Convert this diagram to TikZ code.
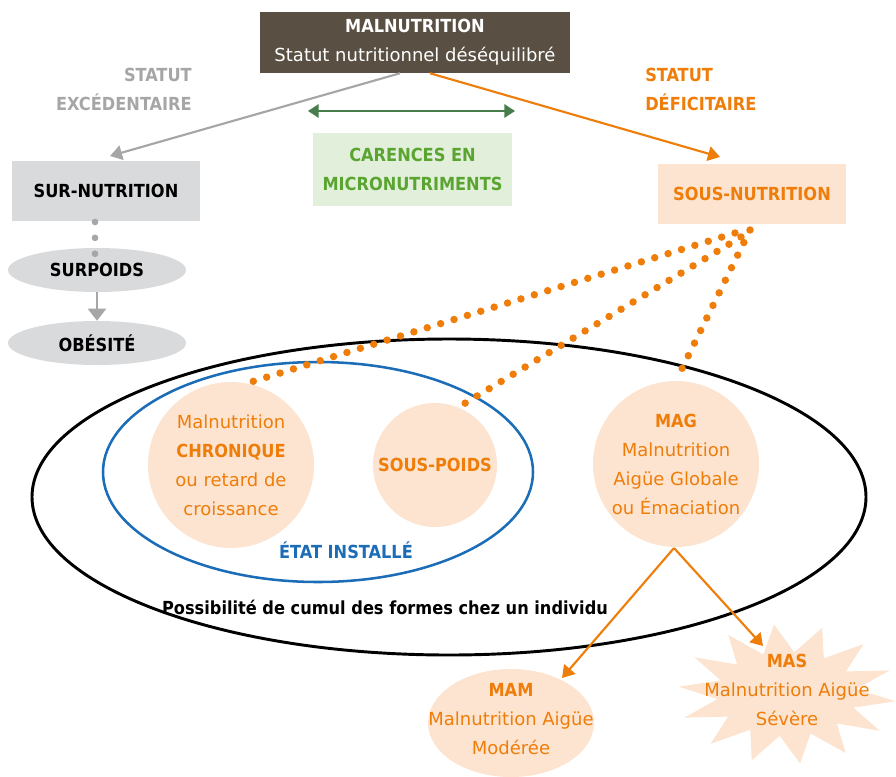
\documentclass[tikz,border=0pt]{standalone}
\usepackage{fontspec}
\setmainfont{DejaVu Sans}[BoldFont={DejaVu Sans Condensed Bold}]
\usetikzlibrary{arrows.meta,shapes.geometric,calc}

\definecolor{malbrown}{HTML}{595043}
\definecolor{greytxt}{HTML}{A6A6A6}
\definecolor{greyfill}{HTML}{D9DADC}
\definecolor{greenfill}{HTML}{E2EFDA}
\definecolor{greentxt}{HTML}{5AA532}
\definecolor{greenarrow}{HTML}{467D4B}
\definecolor{orangec}{HTML}{EF7D0A}
\definecolor{peach}{HTML}{FCE4D0}
\definecolor{bluec}{HTML}{1B6DB7}

\tikzset{
  txt/.style={font=\fontsize{13.5pt}{21.75pt}\selectfont, align=center, inner sep=0pt},
  boxnode/.style={txt, rectangle, minimum width=141pt, minimum height=45pt},
  bubble/.style={txt, circle, fill=peach, text=orangec},
  ovalnode/.style={txt, ellipse, fill=greyfill, minimum width=133.5pt, minimum height=33pt},
  greyarrow/.style={draw=greytxt, line width=1.6pt, -{Triangle[length=9pt,width=11pt]}},
  orangearrow/.style={draw=orangec, line width=1.6pt, -{Triangle[length=9pt,width=11pt]}},
  orangedots/.style={draw=orangec, line width=5.6pt, line cap=round, dash pattern=on 0pt off 10.5pt},
  greydots/.style={draw=greytxt, line width=5pt, line cap=round, dash pattern=on 0pt off 11.9pt},
}

\begin{document}
\begin{tikzpicture}[x=0.75pt,y=-0.75pt]
\useasboundingbox (0,0) rectangle (896,776);

% outer and inner groupings
\node[draw=black, line width=2.2pt, ellipse, minimum width=625.5pt, minimum height=237pt, inner sep=0pt] (cumul) at (449,497) {};
\node[draw=bluec, line width=1.9pt, ellipse, minimum width=322.5pt, minimum height=165pt, inner sep=0pt] (etat) at (318,472) {};

% top box
\node[txt, rectangle, fill=malbrown, text=white, minimum width=232.5pt, minimum height=45.75pt] (mal) at (415,42.5)
  {\textbf{MALNUTRITION}\\Statut nutritionnel déséquilibré};

% side labels
\node[txt, anchor=east, align=right, text=greytxt] (exc) at (192,89) {\textbf{STATUT}\\\textbf{EXCÉDENTAIRE}};
\node[txt, anchor=west, align=left, text=orangec] (def) at (645,89) {\textbf{STATUT}\\\textbf{DÉFICITAIRE}};

% micronutrients
\coordinate (gl) at (308,111);
\coordinate (gr) at (515,111);
\draw[draw=greenarrow, line width=1.6pt, {Triangle[length=8pt,width=10pt]}-{Triangle[length=8pt,width=10pt]}] (gl) -- (gr);
\node[txt, fill=greenfill, text=greentxt, minimum width=149.25pt, minimum height=54.75pt] (car) at (412.5,169.5)
  {\textbf{CARENCES EN}\\\textbf{MICRONUTRIMENTS}};

% over-nutrition branch
\node[boxnode, fill=greyfill, text=black] (sur) at (106,191) {\textbf{SUR-NUTRITION}};
\node[ovalnode] (surp) at (97,270) {\textbf{SURPOIDS}};
\node[ovalnode] (obe) at (97,343) {\textbf{OBÉSITÉ}};
\coordinate (gd1) at (95,222);
\coordinate (gd2) at (95,255);
\draw[draw=greytxt, line width=1.6pt, -{Triangle[length=9pt,width=13.5pt]}] (surp.south) -- (obe.north);
% dots from SUR-NUTRITION, drawn over the SURPOIDS oval
\draw[greydots] (gd1) -- (gd2);

% under-nutrition branch
\node[boxnode, fill=peach, text=orangec] (sous) at (752,194) {\textbf{SOUS-NUTRITION}};

\coordinate (greystart) at ($(mal.south)+(-15,0)$);
\coordinate (greytip) at (110,156);
\draw[greyarrow] (greystart) -- (greytip);
\coordinate (orstart) at ($(mal.south)+(15,0)$);
\coordinate (ortip) at (720,157);
\draw[orangearrow] (orstart) -- (ortip);

% forms of under-nutrition
\node[bubble, minimum size=124.5pt] (chron) at (231,465)
  {Malnutrition\\\textbf{CHRONIQUE}\\ou retard de\\croissance};
\node[bubble, minimum size=93pt] (sp) at (435,465) {\textbf{SOUS-POIDS}};
\node[bubble, minimum size=124.5pt] (mag) at (676,464)
  {\textbf{MAG}\\Malnutrition\\Aigüe Globale\\ou Émaciation};

\node[txt, text=bluec] (etatlbl) at (346,550) {\textbf{ÉTAT INSTALLÉ}};
\node[txt, text=black] (cumullbl) at (385,607) {\textbf{Possibilité de cumul des formes chez un individu}};

% dotted links
\coordinate (d1) at (735,233);
\coordinate (d2) at (741,237);
\coordinate (d3) at (750,230);
\draw[orangedots] (d1) -- (chron.79);
\draw[orangedots] (d2) -- (sp.68);
\draw[orangedots] (d3) -- (mag.north);

% acute forms
\node[ellipse, fill=peach, minimum width=124.5pt, minimum height=81pt, inner sep=0pt] (mam) at (511,723) {};
\node[txt, text=orangec] (mamtxt) at (511,719) {\textbf{MAM}\\Malnutrition Aigüe\\Modérée};
\fill[peach] plot[samples at={0,...,27}, variable=\k]
  ({787+(mod(\k,2)==0 ? 109 : 70)*cos(\k*360/28+6)}, {694+(mod(\k,2)==0 ? 70 : 42)*sin(\k*360/28+6)}) -- cycle;
\node[txt, text=orangec] (mas) at (787,690) {\textbf{MAS}\\Malnutrition Aigüe\\Sévère};

\coordinate (magbase) at (674,548);
\coordinate (mamtip) at (562,678);
\coordinate (mastip) at (763,646);
\draw[orangearrow] (magbase) -- (mamtip);
\draw[orangearrow] (magbase) -- (mastip);
\end{tikzpicture}
\end{document}
